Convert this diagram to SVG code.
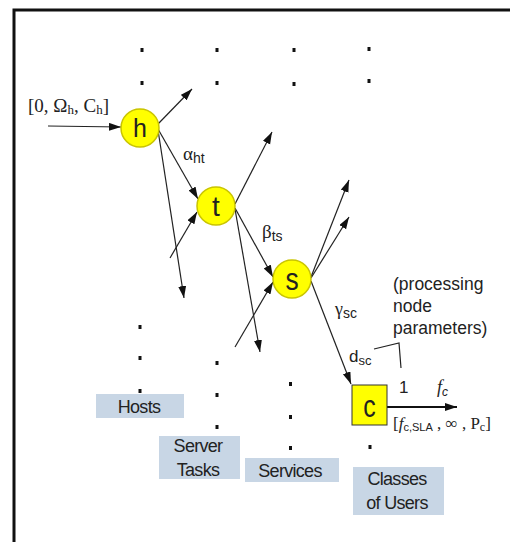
<svg xmlns="http://www.w3.org/2000/svg" width="510" height="542" viewBox="0 0 510 542">
<style>
.sans{font-family:"Liberation Sans",Arial,sans-serif;fill:#222}
.serif{font-family:"Liberation Serif","Times New Roman",serif;fill:#222}
.lbl{fill:#c8d6e5}
.cap{font-size:18px;letter-spacing:-0.7px}
.node{fill:#ffff00;stroke:#c9c400;stroke-width:1.5}
.edge{stroke:#222;stroke-width:1.2;fill:none}
.dot{fill:#111}
</style>
<defs>
<marker id="ah" markerUnits="userSpaceOnUse" markerWidth="13" markerHeight="10" refX="12" refY="4" orient="auto">
<path d="M0,0 L12,4 L0,8 Z" fill="#111"/>
</marker>
</defs>
<rect width="510" height="542" fill="#fff"/>
<path d="M14,560 L14,10 L520,10" fill="none" stroke="#111" stroke-width="3"/>
<g id="dots">
<rect class="dot" x="140.5" y="48" width="3" height="4"/>
<rect class="dot" x="215.5" y="48" width="3" height="4"/>
<rect class="dot" x="292.5" y="48" width="3" height="4"/>
<rect class="dot" x="367.5" y="47" width="3" height="4"/>
<rect class="dot" x="140.5" y="81" width="3" height="4"/>
<rect class="dot" x="215.5" y="81" width="3" height="4"/>
<rect class="dot" x="292.5" y="82" width="3" height="4"/>
<rect class="dot" x="367.5" y="79" width="3" height="4"/>
<rect class="dot" x="138.5" y="325" width="3" height="4"/>
<rect class="dot" x="138.5" y="356" width="3" height="4"/>
<rect class="dot" x="138.5" y="389" width="3" height="4"/>
<rect class="dot" x="215.5" y="361" width="3" height="4"/>
<rect class="dot" x="215.5" y="393" width="3" height="4"/>
<rect class="dot" x="215.5" y="425" width="3" height="4"/>
<rect class="dot" x="289" y="382" width="3" height="4"/>
<rect class="dot" x="289" y="415" width="3" height="4"/>
<rect class="dot" x="289" y="446" width="3" height="4"/>
<rect class="dot" x="368.5" y="445" width="3" height="4"/>
</g>
<g id="connectors">
<line class="edge" x1="48" y1="126" x2="121" y2="127" marker-end="url(#ah)"/>
<line class="edge" x1="158" y1="124" x2="192" y2="89" marker-end="url(#ah)"/>
<line class="edge" x1="158" y1="129" x2="198" y2="199" marker-end="url(#ah)"/>
<line class="edge" x1="158" y1="130" x2="184" y2="298" marker-end="url(#ah)"/>
<line class="edge" x1="170" y1="258" x2="197" y2="212" marker-end="url(#ah)"/>
<line class="edge" x1="235" y1="204" x2="272" y2="132" marker-end="url(#ah)"/>
<line class="edge" x1="235" y1="208" x2="273" y2="277" marker-end="url(#ah)"/>
<line class="edge" x1="235" y1="209" x2="260" y2="352" marker-end="url(#ah)"/>
<line class="edge" x1="235" y1="347" x2="273" y2="282" marker-end="url(#ah)"/>
<line class="edge" x1="311" y1="277" x2="349" y2="180" marker-end="url(#ah)"/>
<line class="edge" x1="311" y1="278" x2="349" y2="217" marker-end="url(#ah)"/>
<line class="edge" x1="311" y1="281" x2="351" y2="384" marker-end="url(#ah)"/>
<line x1="387" y1="407" x2="457" y2="407" stroke="#111" stroke-width="2.2" marker-end="url(#ah)"/>
<polyline class="edge" points="374,349 399,343 401,368"/>
</g>
<g id="node-h">
<circle class="node" cx="140" cy="128" r="19"/>
<text class="sans" x="140" y="137" font-size="25" text-anchor="middle">h</text>
</g>
<g id="node-t">
<circle class="node" cx="216" cy="206" r="19"/>
<text class="sans" x="216" y="216" font-size="28" text-anchor="middle">t</text>
</g>
<g id="node-s">
<circle class="node" cx="292" cy="279" r="19"/>
<text class="sans" x="292" y="290" font-size="31" text-anchor="middle" transform="translate(292,0) scale(0.85,1) translate(-292,0)">s</text>
</g>
<g id="node-c">
<rect x="352" y="385" width="35" height="40" fill="#ffff00" stroke="#333" stroke-width="1"/>
<text class="sans" x="369.5" y="417" font-size="31" text-anchor="middle" transform="translate(369.5,0) scale(0.8,1) translate(-369.5,0)">c</text>
</g>
<g id="labels">
<text class="serif" x="28" y="112" font-size="19">[0, Ω<tspan font-size="13" dy="2">h</tspan><tspan dy="-2">, C</tspan><tspan font-size="13" dy="2">h</tspan><tspan dy="-2">]</tspan></text>
<text class="sans" x="183" y="160" font-size="19"><tspan class="serif">α</tspan><tspan font-size="14" dy="3">ht</tspan></text>
<text class="sans" x="262" y="238" font-size="19"><tspan class="serif">β</tspan><tspan font-size="14" dy="3">ts</tspan></text>
<text class="sans" x="335" y="315" font-size="18"><tspan class="serif">γ</tspan><tspan font-size="14" dy="3">sc</tspan></text>
<text class="sans" x="349" y="362" font-size="17">d<tspan font-size="13" dy="3">sc</tspan></text>
<text class="sans" x="393" y="290" font-size="17.5">(processing</text>
<text class="sans" x="393" y="312" font-size="17.5">node</text>
<text class="sans" x="393" y="334" font-size="17.5">parameters)</text>
<text class="sans" x="399" y="393" font-size="17">1</text>
<text class="serif" x="437" y="393" font-size="18" font-style="italic">f<tspan class="sans" font-size="12" dy="3">c</tspan></text>
<text class="serif" x="393" y="429" font-size="17">[<tspan font-style="italic">f</tspan><tspan class="sans" font-size="11" dy="2">c,SLA</tspan><tspan dy="-2"> , ∞ , P</tspan><tspan font-size="12" dy="2">c</tspan><tspan dy="-2">]</tspan></text>
</g>
<g id="col-hosts">
<rect class="lbl" x="96" y="394" width="88" height="24"/>
<text class="sans cap" x="139" y="413" text-anchor="middle">Hosts</text>
</g>
<g id="col-tasks">
<rect class="lbl" x="159" y="436" width="81" height="43"/>
<text class="sans cap" x="198" y="452" text-anchor="middle">Server</text>
<text class="sans cap" x="198" y="476" text-anchor="middle">Tasks</text>
</g>
<g id="col-services">
<rect class="lbl" x="245" y="458" width="94" height="24"/>
<text class="sans cap" x="290" y="477" text-anchor="middle">Services</text>
</g>
<g id="col-classes">
<rect class="lbl" x="353" y="467" width="91" height="48"/>
<text class="sans cap" x="397" y="485" text-anchor="middle">Classes</text>
<text class="sans cap" x="397" y="509" text-anchor="middle">of Users</text>
</g>
</svg>
